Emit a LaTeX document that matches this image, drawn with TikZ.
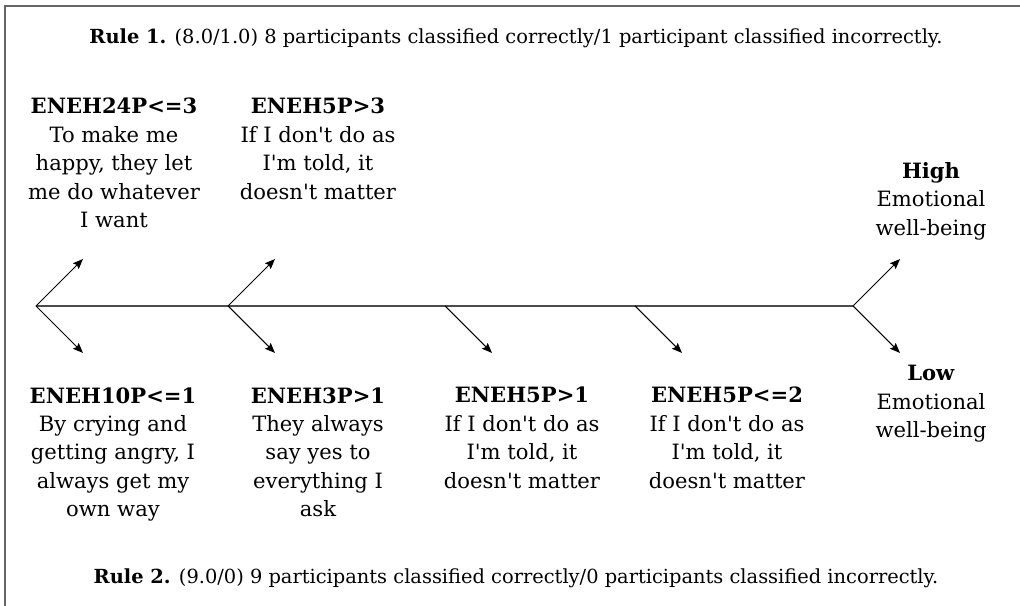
\documentclass[tikz,border=0pt]{standalone}
\usepackage{fontspec}
\setmainfont{DejaVu Serif}
\usepackage{tikz}
\usetikzlibrary{arrows.meta,positioning}

\newcommand{\apos}{\textquotesingle}

\tikzset{
    branch/.style={-{Stealth[length=5.8pt,width=4.6pt,inset=1pt]},line width=0.6pt},
    cond/.style={align=center,anchor=north,inner sep=0pt,font=\fontsize{12}{16.2}\selectfont},
    rulenote/.style={inner sep=0pt,font=\fontsize{11.05}{16.2}\selectfont}
}

\begin{document}
\begin{tikzpicture}[x=2cm,y=2cm]
    % Frame
    \useasboundingbox (0,0) rectangle (10.2,6.06);
    \draw [gray!80!black, line width=0.8pt] (0.05,0) -- (0.05,6.0) -- (10.2,6.0);

    % Rules
    \node [rulenote] (rule1) at (5.16,5.68) {\textbf{Rule 1.} (8.0/1.0) 8 participants classified correctly/1 participant classified incorrectly.};
    \node [rulenote] (rule2) at (5.16,0.28) {\textbf{Rule 2.} (9.0/0) 9 participants classified correctly/0 participants classified incorrectly.};

    % Branch points
    \coordinate (a) at (0.36,3.0);
    \coordinate (b) at (2.28,3.0);
    \coordinate (c) at (4.45,3.0);
    \coordinate (d) at (6.35,3.0);
    \coordinate (e) at (8.53,3.0);

    % Arrow ends
    \coordinate (au) at (0.83,3.47);
    \coordinate (ad) at (0.83,2.53);
    \coordinate (bu) at (2.75,3.47);
    \coordinate (bd) at (2.75,2.53);
    \coordinate (cd) at (4.92,2.53);
    \coordinate (dd) at (6.82,2.53);
    \coordinate (eu) at (9.00,3.47);
    \coordinate (ed) at (9.00,2.53);

    % Main line
    \draw [line width=1.1pt, black!70] (a) -- (e);

    % Branches
    \draw [branch] (a) -- (au);
    \draw [branch] (a) -- (ad);
    \draw [branch] (b) -- (bu);
    \draw [branch] (b) -- (bd);
    \draw [branch] (c) -- (cd);
    \draw [branch] (d) -- (dd);
    \draw [branch] (e) -- (eu);
    \draw [branch] (e) -- (ed);

    % Upper conditions
    \node [cond] (eneh24) at (1.14,5.08) {\textbf{ENEH24P<=3}\\To make me\\happy, they let\\me do whatever\\I want};
    \node [cond] (eneh5a) at (3.18,5.08) {\textbf{ENEH5P>3}\\If I don\apos t do as\\I\apos m told, it\\doesn\apos t matter};
    \node [cond] (high) at (9.31,4.44) {\textbf{High}\\Emotional\\well-being};

    % Lower conditions
    \node [cond] (eneh10) at (1.13,2.19) {\textbf{ENEH10P<=1}\\By crying and\\getting angry, I\\always get my\\own way};
    \node [cond] (eneh3) at (3.18,2.19) {\textbf{ENEH3P>1}\\They always\\say yes to\\everything I\\ask};
    \node [cond] (eneh5b) at (5.22,2.19) {\textbf{ENEH5P>1}\\If I don\apos t do as\\I\apos m told, it\\doesn\apos t matter};
    \node [cond] (eneh5c) at (7.27,2.19) {\textbf{ENEH5P<=2}\\If I don\apos t do as\\I\apos m told, it\\doesn\apos t matter};
    \node [cond] (low) at (9.31,2.41) {\textbf{Low}\\Emotional\\well-being};

\end{tikzpicture}
\end{document}
